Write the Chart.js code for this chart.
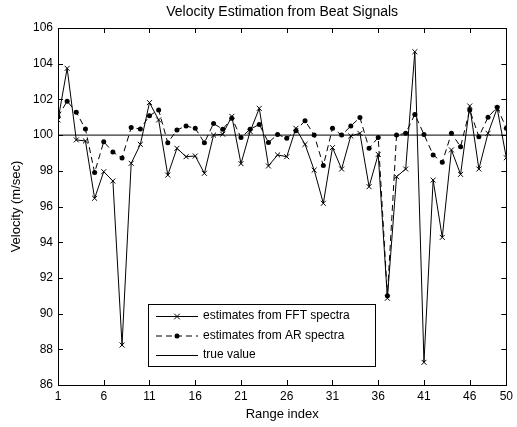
<!DOCTYPE html>
<html>
<head>
<meta charset="utf-8">
<script src="https://cdn.jsdelivr.net/npm/chart.js@4.4.1/dist/chart.umd.min.js"></script>
<style>
  body { margin: 0; background: #fff; }
  #wrap { width: 517px; height: 427px; }
</style>
</head>
<body>
<div id="wrap"><canvas id="velocity_chart" width="517" height="427"></canvas></div>
<script>
const rangeIndex = [1, 2, 3, 4, 5, 6, 7, 8, 9, 10, 11, 12, 13, 14, 15, 16, 17, 18, 19, 20,
  21, 22, 23, 24, 25, 26, 27, 28, 29, 30, 31, 32, 33, 34, 35, 36, 37, 38, 39, 40,
  41, 42, 43, 44, 45, 46, 47, 48, 49, 50];

const fftEstimates = [100.85, 103.74, 99.73, 99.67, 96.46, 97.95, 97.43, 88.24, 98.42, 99.48,
  101.82, 100.85, 97.76, 99.26, 98.79, 98.83, 97.86, 100.0, 100.05, 101.05,
  98.4, 100.2, 101.5, 98.27, 98.89, 98.79, 100.38, 99.48, 98.04, 96.18,
  99.3, 98.1, 99.95, 100.1, 97.11, 98.92, 90.86, 97.67, 98.1, 104.67,
  87.27, 97.48, 94.27, 99.17, 97.8, 101.63, 98.1, 100.1, 101.5, 98.73];

const arEstimates = [101.03, 101.9, 101.28, 100.34, 97.9, 99.63, 99.05, 98.72, 100.42, 100.34,
  101.09, 101.41, 99.57, 100.29, 100.51, 100.38, 99.57, 100.65, 100.33, 100.95,
  99.86, 100.33, 100.6, 99.58, 100.04, 99.82, 100.25, 100.81, 100.0, 98.29,
  100.38, 100.0, 100.51, 100.98, 99.26, 99.87, 91.0, 100.0, 100.1, 101.16,
  100.04, 98.89, 98.48, 100.1, 99.35, 101.41, 99.91, 101.0, 101.56, 100.38];

const trueVelocity = 100;
const xTicks = [1, 6, 11, 16, 21, 26, 31, 36, 41, 46, 50];
const yTicks = [86, 88, 90, 92, 94, 96, 98, 100, 102, 104, 106];

const FONT = "'Liberation Sans', Arial, sans-serif";

// box round the plot + inward tick marks (matlab style)
const framePlugin = {
  id: "frame",
  afterDraw(chart) {
    const { ctx, chartArea: a, scales } = chart;
    ctx.save();
    ctx.strokeStyle = "#000";
    ctx.lineWidth = 1;
    ctx.strokeRect(Math.round(a.left) + 0.5, Math.round(a.top) + 0.5,
      Math.round(a.right - a.left), Math.round(a.bottom - a.top));
    ctx.beginPath();
    xTicks.forEach((v) => {
      const px = Math.round(scales.x.getPixelForValue(v)) + 0.5;
      ctx.moveTo(px, a.bottom); ctx.lineTo(px, a.bottom - 5);
      ctx.moveTo(px, a.top); ctx.lineTo(px, a.top + 5);
    });
    yTicks.forEach((v) => {
      const py = Math.round(scales.y.getPixelForValue(v)) + 0.5;
      ctx.moveTo(a.left, py); ctx.lineTo(a.left + 5, py);
      ctx.moveTo(a.right, py); ctx.lineTo(a.right - 5, py);
    });
    ctx.stroke();
    ctx.restore();
  },
};

// legend box inside the plot, lower middle
const legendBoxPlugin = {
  id: "legendBox",
  afterDraw(chart) {
    const { ctx } = chart;
    const box = { left: 148, top: 304, right: 375, bottom: 366 };
    const rows = [316, 335.5, 355];
    ctx.save();
    ctx.fillStyle = "#fff";
    ctx.fillRect(box.left, box.top, box.right - box.left, box.bottom - box.top);
    ctx.strokeStyle = "#000";
    ctx.lineWidth = 1;
    ctx.strokeRect(box.left + 0.5, box.top + 0.5, box.right - box.left, box.bottom - box.top);
    ctx.font = "12px " + FONT;
    ctx.textBaseline = "middle";
    ctx.fillStyle = "#000";
    chart.data.datasets.forEach((ds, i) => {
      const y = rows[i] + 0.5;
      ctx.beginPath();
      ctx.setLineDash(ds.borderDash || []);
      ctx.moveTo(156, y);
      ctx.lineTo(198, y);
      ctx.stroke();
      ctx.setLineDash([]);
      if (ds.pointRadius > 0) {
        const r = ds.pointRadius;
        if (ds.pointStyle === "crossRot") {
          ctx.beginPath();
          ctx.moveTo(177 - r * 0.8, y - r * 0.8); ctx.lineTo(177 + r * 0.8, y + r * 0.8);
          ctx.moveTo(177 - r * 0.8, y + r * 0.8); ctx.lineTo(177 + r * 0.8, y - r * 0.8);
          ctx.stroke();
        } else {
          ctx.beginPath();
          ctx.arc(177, y, r, 0, Math.PI * 2);
          ctx.fill();
        }
      }
      ctx.fillText(ds.label, 203, rows[i]);
    });
    ctx.restore();
  },
};

const ctx = document.getElementById("velocity_chart").getContext("2d");

let configuration = {
  type: "line",
  data: {
    datasets: [
      {
        label: "estimates from FFT spectra",
        data: rangeIndex.map((r, i) => ({ x: r, y: fftEstimates[i] })),
        borderColor: "#000",
        backgroundColor: "#000",
        borderWidth: 1,
        pointStyle: "crossRot",
        pointRadius: 3.5,
        pointBorderWidth: 1,
        tension: 0,
      },
      {
        label: "estimates from AR spectra",
        data: rangeIndex.map((r, i) => ({ x: r, y: arEstimates[i] })),
        borderColor: "#000",
        backgroundColor: "#000",
        borderWidth: 1,
        borderDash: [6, 4],
        pointStyle: "circle",
        pointRadius: 2.5,
        pointBorderWidth: 0,
        tension: 0,
      },
      {
        label: "true value",
        data: [
          { x: rangeIndex[0], y: trueVelocity },
          { x: rangeIndex[rangeIndex.length - 1], y: trueVelocity },
        ],
        borderColor: "#000",
        borderWidth: 1,
        pointRadius: 0,
      },
    ],
  },
  options: {
    responsive: false,
    animation: false,
    events: [],
    layout: { padding: { left: 0, right: 7, top: 0, bottom: 0 } },
    plugins: {
      legend: { display: false },
      tooltip: { enabled: false },
      title: {
        display: true,
        fullSize: false,
        text: "Velocity Estimation from Beat Signals",
        color: "#000",
        font: { family: FONT, size: 14, weight: "normal" },
        padding: { top: 4, bottom: 7.2 },
      },
    },
    scales: {
      x: {
        type: "linear",
        min: 1,
        max: 50,
        afterBuildTicks: (scale) => {
          scale.ticks = xTicks.map((v) => ({ value: v }));
        },
        afterFit: (scale) => {
          scale.height = 42;
        },
        grid: { display: false, drawTicks: false },
        border: { display: false },
        ticks: {
          color: "#000",
          font: { family: FONT, size: 12 },
          padding: 4,
          maxRotation: 0,
          autoSkip: false,
        },
        title: {
          display: true,
          text: "Range index",
          color: "#000",
          font: { family: FONT, size: 13 },
          padding: { top: 3, bottom: 5 },
        },
      },
      y: {
        min: 86,
        max: 106,
        afterBuildTicks: (scale) => {
          scale.ticks = yTicks.map((v) => ({ value: v }));
        },
        afterFit: (scale) => {
          scale.width = 58;
        },
        grid: { display: false, drawTicks: false },
        border: { display: false },
        ticks: {
          color: "#000",
          font: { family: FONT, size: 12 },
          padding: 5,
        },
        title: {
          display: true,
          text: "Velocity (m/sec)",
          color: "#000",
          font: { family: FONT, size: 13 },
          padding: { top: 9, bottom: 4 },
        },
      },
    },
  },
  plugins: [framePlugin, legendBoxPlugin],
};

const chart = new Chart(ctx, configuration);
</script>
</body>
</html>
